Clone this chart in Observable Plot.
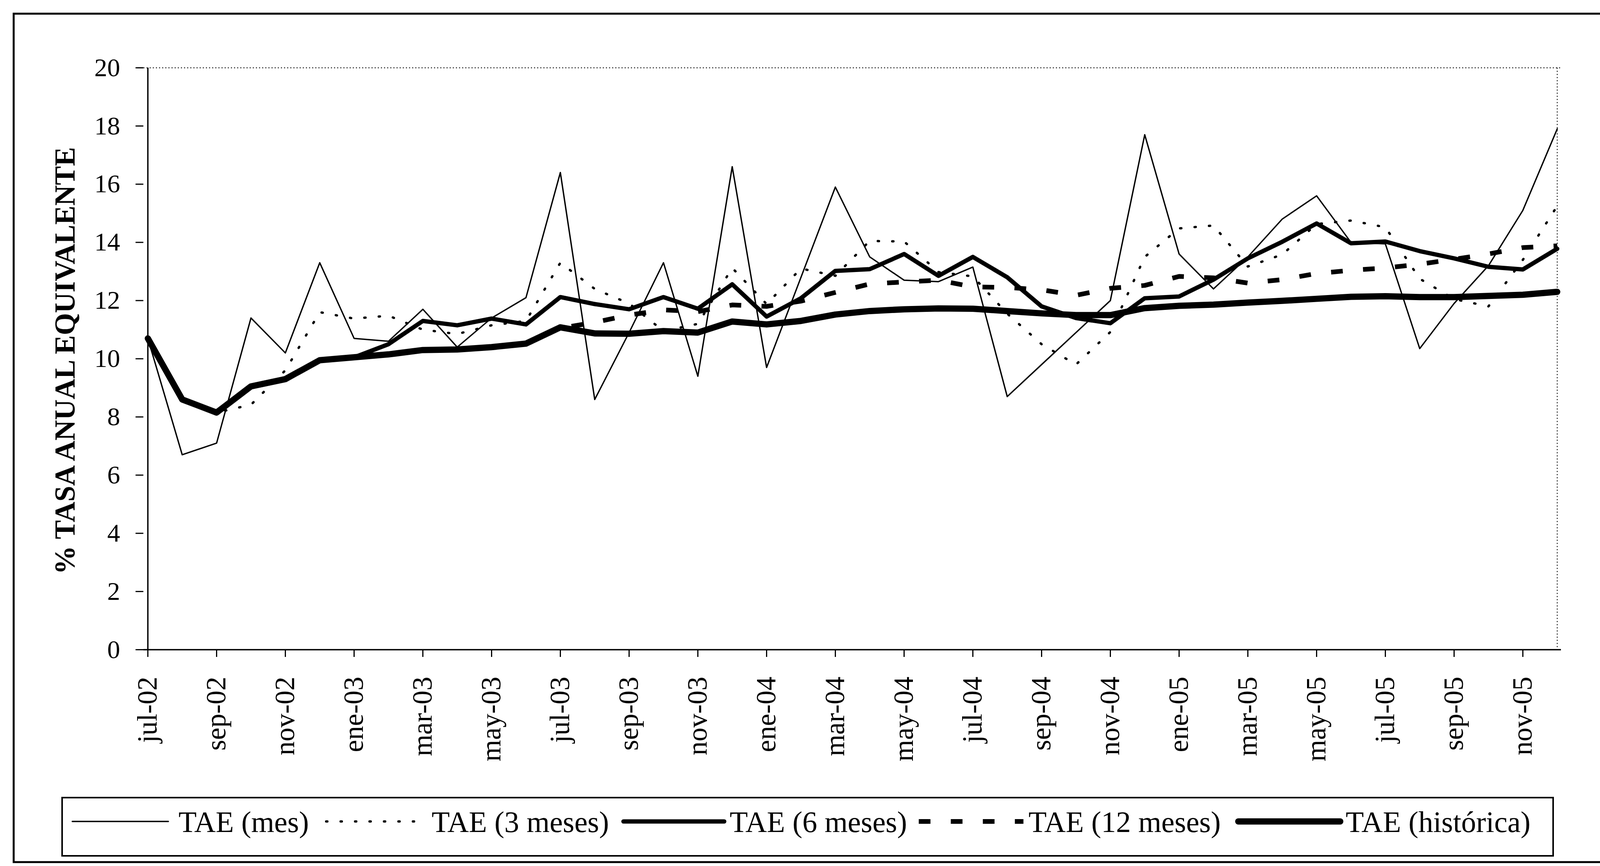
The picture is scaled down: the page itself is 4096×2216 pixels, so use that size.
<!DOCTYPE html>
<html>
<head>
<meta charset="utf-8">
<script src="https://cdn.jsdelivr.net/npm/d3@7"></script>
<script src="https://cdn.jsdelivr.net/npm/@observablehq/plot@0.6"></script>
<style>
  html, body { margin: 0; padding: 0; background: #fff; }
  #wrap { position: relative; width: 4096px; height: 2216px; overflow: hidden; background: #fff; }
  #wrap svg { position: absolute; left: 0; top: 0; }
</style>
</head>
<body>
<div id="wrap"></div>
<script>
// ---------------- DATA ----------------
const months = [
  "jul-02","ago-02","sep-02","oct-02","nov-02","dic-02",
  "ene-03","feb-03","mar-03","abr-03","may-03","jun-03","jul-03","ago-03","sep-03","oct-03","nov-03","dic-03",
  "ene-04","feb-04","mar-04","abr-04","may-04","jun-04","jul-04","ago-04","sep-04","oct-04","nov-04","dic-04",
  "ene-05","feb-05","mar-05","abr-05","may-05","jun-05","jul-05","ago-05","sep-05","oct-05","nov-05","dic-05"
];
const xTickLabels = [
  "jul-02","sep-02","nov-02","ene-03","mar-03","may-03","jul-03","sep-03","nov-03","ene-04","mar-04",
  "may-04","jul-04","sep-04","nov-04","ene-05","mar-05","may-05","jul-05","sep-05","nov-05"
];
const yTicks = [0, 2, 4, 6, 8, 10, 12, 14, 16, 18, 20];
const seriesNames = ["TAE (mes)", "TAE (3 meses)", "TAE (6 meses)", "TAE (12 meses)", "TAE (histórica)"];
const yTitle = "% TASA ANUAL EQUIVALENTE";

const taeMes = [
  10.7, 6.7, 7.1, 11.4, 10.2, 13.3, 10.7, 10.6, 11.7, 10.4,
  11.4, 12.1, 16.4, 8.6, 10.9, 13.3, 9.4, 16.6, 9.7, 12.8,
  15.9, 13.5, 12.7, 12.65, 13.15, 8.7, 9.8, 10.9, 12.0, 17.7,
  13.6, 12.4, 13.5, 14.8, 15.6, 14.0, 13.95, 10.35, 11.9, 13.2,
  15.1, 17.9
];
const tae3 = [
  10.7, 8.6, 8.15, 8.42, 9.6, 11.6, 11.38, 11.48, 11.0, 10.85,
  11.15, 11.3, 13.3, 12.4, 11.9, 10.95, 11.2, 13.12, 11.88, 13.1,
  12.85, 14.05, 14.03, 12.98, 12.83, 11.55, 10.5, 9.8, 10.92, 13.5,
  14.48, 14.58, 13.17, 13.58, 14.63, 14.75, 14.52, 12.75, 12.05, 11.8,
  13.4, 15.25
];
const tae6 = [
  10.7, 8.6, 8.15, 9.05, 9.3, 9.95, 10.05, 10.5, 11.3, 11.15,
  11.38, 11.18, 12.12, 11.88, 11.7, 12.12, 11.72, 12.56, 11.45, 12.08,
  13.02, 13.08, 13.6, 12.85, 13.5, 12.8, 11.8, 11.4, 11.22, 12.08,
  12.14, 12.72, 13.45, 14.02, 14.65, 13.97, 14.03, 13.7, 13.45, 13.16,
  13.07, 13.78
];
const tae12 = [
  10.7, 8.6, 8.15, 9.05, 9.3, 9.95, 10.05, 10.15, 10.3, 10.32,
  10.4, 10.52, 11.05, 11.25, 11.5, 11.68, 11.62, 11.85, 11.8, 11.98,
  12.28, 12.57, 12.64, 12.7, 12.47, 12.45, 12.37, 12.18, 12.42, 12.52,
  12.83, 12.78, 12.6, 12.72, 12.93, 13.04, 13.12, 13.25, 13.42, 13.6,
  13.82, 13.88
];
const taeHist = [
  10.7, 8.6, 8.15, 9.05, 9.3, 9.95, 10.05, 10.15, 10.3, 10.32,
  10.4, 10.52, 11.08, 10.87, 10.86, 10.95, 10.9, 11.28, 11.18, 11.3,
  11.52, 11.64, 11.7, 11.73, 11.72, 11.64, 11.56, 11.5, 11.5, 11.74,
  11.82, 11.86, 11.93, 11.99, 12.06, 12.13, 12.15, 12.12, 12.12, 12.16,
  12.2, 12.3
];

// ---------------- STYLES ----------------
const FONT = "'Liberation Serif','Times New Roman',Times,serif";
const styles = [
  {strokeWidth: 3.5, strokeDasharray: null, strokeLinecap: "round"},
  {strokeWidth: 6, strokeDasharray: "3,34", strokeLinecap: "round"},
  {strokeWidth: 11, strokeDasharray: null, strokeLinecap: "round"},
  {strokeWidth: 12, strokeDasharray: "30,52", strokeLinecap: "butt"},
  {strokeWidth: 16, strokeDasharray: null, strokeLinecap: "round"}
];
const allSeries = [taeMes, tae3, tae6, tae12, taeHist];

const W = 4096, H = 2000;
const rows = (vals, name) => vals.map((v, i) => ({month: months[i], value: v, series: name}));

const lineMarks = allSeries.map((vals, k) =>
  Plot.line(rows(vals, seriesNames[k]), {
    x: "month", y: "value", stroke: "#000",
    strokeWidth: styles[k].strokeWidth,
    strokeDasharray: styles[k].strokeDasharray || undefined,
    strokeLinecap: styles[k].strokeLinecap,
    strokeLinejoin: "round"
  })
);

const chart = Plot.plot({
  width: W, height: H,
  marginLeft: 367, marginRight: 100, marginTop: 173, marginBottom: H - 1662,
  style: {fontFamily: FONT, background: "transparent", color: "#000", overflow: "visible"},
  x: {type: "point", domain: months, padding: 0, label: null},
  y: {domain: [0, 20], label: null},
  marks: [
    Plot.ruleY([20], {stroke: "#000", strokeWidth: 2, strokeDasharray: "3,5"}),
    Plot.ruleX([months[months.length - 1]], {stroke: "#000", strokeWidth: 2, strokeDasharray: "3,5"}),
    ...lineMarks,
    Plot.ruleY([0], {stroke: "#000", strokeWidth: 3.5}),
    Plot.ruleX([months[0]], {stroke: "#000", strokeWidth: 3.5}),
    Plot.axisY({ticks: yTicks, tickSize: 20, tickPadding: 40, fontSize: 66, strokeWidth: 3, label: null, tickFormat: d => String(d)}),
    Plot.axisX({ticks: xTickLabels, tickRotate: -90, tickSize: 19, tickPadding: 50, fontSize: 71, strokeWidth: 3, label: null})
  ]
});
document.getElementById("wrap").appendChild(chart);

// ---------------- OVERLAY: frame, y title, legend ----------------
const ov = d3.select("#wrap").append("svg")
  .attr("width", 4096).attr("height", 2216)
  .style("font-family", FONT);

ov.append("path")
  .attr("d", "M4096,35 H35 V2206 H4096")
  .attr("fill", "none").attr("stroke", "#000").attr("stroke-width", 5);

ov.append("text")
  .attr("transform", "translate(165,923) rotate(-90)")
  .attr("text-anchor", "middle").attr("dy", "0.35em")
  .attr("font-weight", "bold").attr("font-size", 73)
  .text(yTitle);

const legTop = 2041, legBottom = 2190, legY = 2102;
ov.append("rect")
  .attr("x", 159).attr("y", legTop).attr("width", 3976 - 159).attr("height", legBottom - legTop)
  .attr("fill", "none").attr("stroke", "#000").attr("stroke-width", 4);

const legItems = [
  {x0: 185, x1: 431, tx: 457},
  {x0: 835, x1: 1086, tx: 1105},
  {x0: 1596, x1: 1854, tx: 1868},
  {x0: 2352, x1: 2620, tx: 2633},
  {x0: 3170, x1: 3431, tx: 3445}
];
legItems.forEach((it, k) => {
  const s = styles[k];
  const ln = ov.append("line")
    .attr("x1", it.x0).attr("x2", it.x1).attr("y1", legY).attr("y2", legY)
    .attr("stroke", "#000").attr("stroke-width", s.strokeWidth)
    .attr("stroke-linecap", s.strokeLinecap);
  if (s.strokeDasharray) ln.attr("stroke-dasharray", s.strokeDasharray);
  ov.append("text")
    .attr("x", it.tx).attr("y", legY).attr("dy", "0.35em")
    .attr("font-size", 76).attr("text-anchor", "start")
    .text(seriesNames[k]);
});
</script>
</body>
</html>
